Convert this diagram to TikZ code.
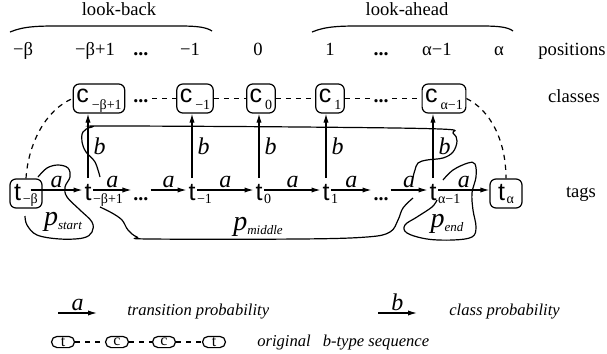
\documentclass[tikz,border=0pt]{standalone}
\usepackage{fontspec}
\setmainfont{Liberation Serif}
\setsansfont{Liberation Sans}
\usetikzlibrary{arrows.meta}

\newcommand{\tidx}[1]{\hspace{0.8pt}\raisebox{-1.6pt}{\fontsize{7}{8}\selectfont\rmfamily #1}}
\newcommand{\tidxr}[1]{\rlap{\tidx{#1}}}
\newcommand{\csub}[1]{\hspace{1.5pt}\raisebox{-3.5pt}{\fontsize{7}{8}\selectfont\rmfamily #1}}
\newcommand{\pname}[1]{p\raisebox{-2pt}{\fontsize{6.5}{7}\selectfont #1}}

\tikzset{
  tagn/.style={font=\sffamily\fontsize{12.5}{13}\selectfont, inner sep=0pt, outer sep=1pt,
    text height=10pt, text depth=0pt, anchor=base},
  tdots/.style={tagn, font=\rmfamily\bfseries\fontsize{10}{11}\selectfont},
  tagbox/.style={draw, rounded corners=3pt, font=\sffamily\fontsize{12.5}{13}\selectfont,
    inner xsep=2pt, inner ysep=1.5pt, minimum width=16pt, text height=9pt, text depth=2.5pt, anchor=base},
  cls/.style={draw, rounded corners=3pt, font=\sffamily\fontsize{12.5}{13}\selectfont,
    inner sep=1.5pt, text height=7.5pt, text depth=4pt, anchor=base},
  cdots/.style={cls, draw=none, font=\rmfamily\bfseries\fontsize{10}{11}\selectfont},
  postxt/.style={font=\rmfamily\fontsize{9.3}{11}\selectfont, anchor=base},
  hdots/.style={postxt, font=\rmfamily\bfseries\fontsize{10}{11}\selectfont},
  arr/.style={-{Latex[length=4.5pt,width=2.6pt]}},
  al/.style={above, inner sep=1pt, font=\rmfamily\itshape\fontsize{12}{12}\selectfont},
  bl/.style={right, inner sep=2.5pt, font=\rmfamily\itshape\fontsize{12}{12}\selectfont},
  dsh/.style={dash pattern=on 2.6pt off 2.4pt},
  plab/.style={font=\rmfamily\itshape\fontsize{14}{14}\selectfont},
  note/.style={font=\rmfamily\itshape\fontsize{8.3}{10}\selectfont, anchor=base west},
  mini/.style={draw, rounded corners=2.8pt, font=\rmfamily\fontsize{8}{8}\selectfont, inner sep=0pt,
    minimum width=11.5pt, minimum height=5.6pt}
}

\begin{document}
\begin{tikzpicture}[x=0.5pt, y=-0.5pt, line width=0.6pt]
  \useasboundingbox (0,0) rectangle (607,354);

  \node[postxt] (lback) at (119,15) {look-back};
  \node[postxt] (lahead) at (407,15) {look-ahead};
  \draw (10,32) .. controls (24,26) and (40,26) .. (60,26) -- (180,26) .. controls (196,26) and (206,27) .. (212,31);
  \draw (312,32) .. controls (326,26) and (342,26) .. (362,26) -- (482,26) .. controls (498,26) and (508,27) .. (513,31);

  \node[postxt] (pmb) at (23,55) {−β};
  \node[postxt] (pmb1) at (95,55) {−β+1};
  \node[hdots] (pd1) at (141,55) {...};
  \node[postxt] (pm1) at (190,55) {−1};
  \node[postxt] (p0) at (258,55) {0};
  \node[postxt] (p1) at (330,55) {1};
  \node[hdots] (pd2) at (381,55) {...};
  \node[postxt] (pa1) at (437,55) {α−1};
  \node[postxt] (pa) at (499,55) {α};
  \node[postxt] (lpos) at (572,55) {positions};
  \node[postxt] (lcls) at (574,102) {classes};
  \node[postxt] (ltag) at (581,197) {tags};

  \node[cls] (cmb1) at (99,102) {c\csub{−β+1}};
  \node[cdots] (cd1) at (141,102) {...};
  \node[cls] (cm1) at (195,102) {c\csub{−1}};
  \node[cls] (c0) at (261,102) {c\csub{0}};
  \node[cls] (c1) at (330,102) {c\csub{1}};
  \node[cdots] (cd2) at (381,102) {...};
  \node[cls] (ca1) at (444,102) {c\csub{α−1}};

  \node[tagbox] (tmb) at (26,200) {t\tidx{−β}};
  \node[tagn] (tmb1) at (88,200) {t\tidxr{−β+1}};
  \node[tdots] (td1) at (141,200) {...};
  \node[tagn] (tm1) at (192,200) {t\tidxr{−1}};
  \node[tagn] (t0) at (259,200) {t\tidxr{0}};
  \node[tagn] (t1) at (326,200) {t\tidxr{1}};
  \node[tdots] (td2) at (381,200) {...};
  \node[tagn] (ta1) at (433,200) {t\tidxr{α−1}};
  \node[tagbox] (ta) at (506,200) {t\tidx{α}};

  \draw[arr] ([xshift=-6pt]tmb.east |- tmb1) -- node[al] {a} (tmb1);
  \draw[arr] (tmb1) -- node[al] {a} (td1);
  \draw[arr] (td1) -- node[al] {a} (tm1);
  \draw[arr] (tm1) -- node[al] {a} (t0);
  \draw[arr] (t0) -- node[al] {a} (t1);
  \draw[arr] (t1) -- node[al] {a} (td2);
  \draw[arr] (td2) -- node[al] {a} (ta1);
  \draw[arr] (ta1) -- node[al] {a} (ta1 -| ta.west);

  \draw[arr] (tmb1) -- node[bl] {b} (tmb1 |- cmb1.south);
  \draw[arr] (tm1) -- node[bl] {b} (tm1 |- cm1.south);
  \draw[arr] (t0) -- node[bl] {b} (t0 |- c0.south);
  \draw[arr] (t1) -- node[bl] {b} (t1 |- c1.south);
  \draw[arr] (ta1) -- node[bl] {b} (ta1 |- ca1.south);

  \draw[dsh] (tmb.north) .. controls (28,145) and (45,110) .. (cmb1.west);
  \draw[dsh] (cd1) -- (cm1);
  \draw[dsh] (cm1) -- (c0);
  \draw[dsh] (c0) -- (c1);
  \draw[dsh] (c1) -- (cd2);
  \draw[dsh] (cd2) -- (ca1);
  \draw[dsh] (ca1.east) .. controls (490,110) and (506,140) .. (ta.north);

  \draw[smooth, tension=0.6] plot coordinates {(38,177) (47,168) (58,165) (68,168) (70,177) (65,187)
    (67,197) (80,210) (92,222) (92,232) (83,238) (60,239) (37,235) (27,225) (25,216)};
  \draw[smooth, tension=0.6] plot coordinates {(100,177) (95,162) (86,152) (82,142) (83,132) (92,127)
    (110,126) (300,127) (440,129) (453,133) (457,141) (453,152) (443,158) (427,160) (418,163) (415,170) (413,177)};
  \draw[smooth, tension=0.6] plot coordinates {(100,207) (112,213) (122,220) (128,230) (137,237) (150,239)
    (300,239) (367,237) (390,232) (398,220) (403,208) (413,198)};
  \draw[smooth, tension=0.6] plot coordinates {(443,180) (453,170) (468,163) (475,164) (476,177) (472,193)
    (473,210) (476,227) (472,237) (453,240) (427,239) (407,233) (405,225) (417,217) (432,207) (437,200)};
  \node[plab] (pstart) at (63,222) {\pname{start}};
  \node[plab] (pmid) at (258,227) {\pname{middle}};
  \node[plab] (pend) at (447,224) {\pname{end}};

  \coordinate (la1) at (58,313);
  \coordinate (la2) at (97,313);
  \draw[arr] (la1) -- node[al] {a} (la2);
  \node[note] (ltrans) at (120,315) {transition probability};
  \coordinate (lb1) at (378,313);
  \coordinate (lb2) at (417,313);
  \draw[arr] (lb1) -- node[al] {b} (lb2);
  \node[note] (lclass) at (442,315) {class probability};
  \node[mini] (m1) at (63,342) {t};
  \node[mini] (m2) at (117,342) {c};
  \node[mini] (m3) at (164,342) {c};
  \node[mini] (m4) at (214,342) {t};
  \draw[dsh] (m1) -- (m2) -- (m3) -- (m4);
  \node[note] (lorig) at (250,346) {original\hspace{6pt}b-type sequence};
\end{tikzpicture}
\end{document}
